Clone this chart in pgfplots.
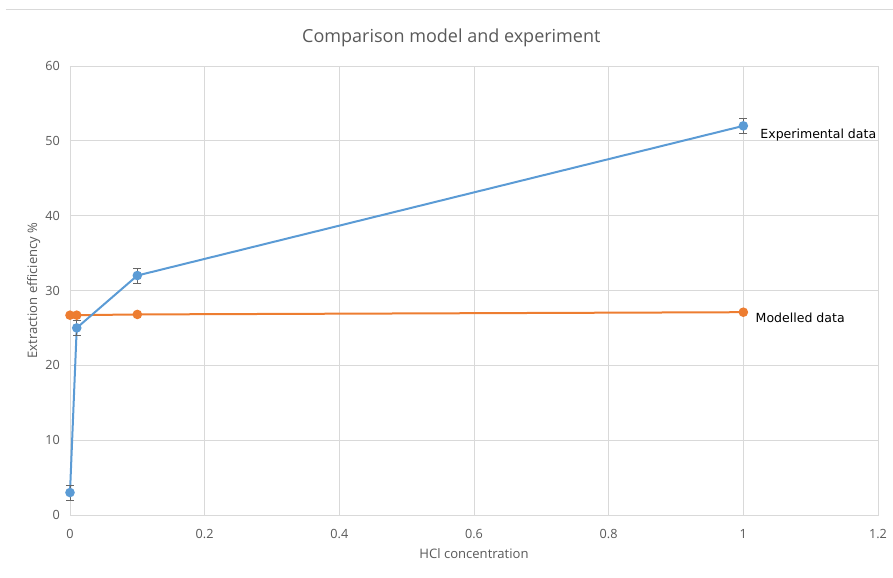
\documentclass[border=0pt]{standalone}
\usepackage{pgfplots}
\pgfplotsset{compat=1.18}
\usepackage{fontspec}
\setmainfont{Open Sans}
\newfontfamily\dejavu{DejaVu Sans}
\definecolor{blueS}{RGB}{91,155,213}
\definecolor{orangeS}{RGB}{237,125,49}
\definecolor{gridc}{RGB}{217,217,217}
\definecolor{txt}{RGB}{89,89,89}
\begin{document}
\begin{tikzpicture}
\path[use as bounding box] (-52.5pt,-47.25pt) rectangle (617.25pt,386.25pt);
\draw[gridc, line width=0.75pt] (-48pt,378.75pt) -- (617.25pt,378.75pt);
\begin{axis}[
  at={(0,0)}, anchor=south west,
  scale only axis, width=606pt, height=336.75pt,
  xmin=0, xmax=1.2, ymin=0, ymax=60,
  xtick={0,0.2,...,1.2}, ytick={0,10,...,60},
  grid=major, grid style={gridc, line width=0.6pt},
  axis line style={gridc, line width=0.6pt},
  tick style={draw=none},
  ticklabel style={font=\fontsize{9.5}{11}\selectfont, text=txt},
  /pgf/number format/assume math mode=true,
  xticklabel style={/pgf/number format/fixed, yshift=-7pt},
  yticklabel style={xshift=-4pt},
  xlabel={HCl concentration},
  ylabel={Extraction efficiency \%},
  label style={font=\fontsize{9.8}{11}\selectfont, text=txt},
  xlabel style={yshift=-1pt},
  ylabel style={yshift=-3pt},
  title={Comparison model and experiment},
  title style={font=\fontsize{13.5}{15}\selectfont, text=txt, yshift=5pt, xshift=-17pt},
  clip=false,
]
\addplot[orangeS, line width=1.5pt, mark=*, mark size=2.8pt, mark options={fill=orangeS, draw=orangeS}]
  coordinates {(0,26.7) (0.01,26.7) (0.1,26.8) (1,27.1)};
\addplot[blueS, line width=1.5pt, mark=*, mark size=2.8pt, mark options={fill=blueS, draw=blueS},
  error bars/.cd, y dir=both, y explicit,
  error bar style={black!60, line width=0.5pt},
  error mark options={rotate=90, mark size=3pt, black!60, line width=0.5pt}]
  coordinates {(0,3) +- (0,1) (0.01,25) +- (0,1) (0.1,32) +- (0,1) (1,52) +- (0,1)};
\node[anchor=west, inner sep=0pt, font=\dejavu\fontsize{9.4}{11}\selectfont] at (axis cs:1.025,50.8) {Experimental data};
\node[anchor=west, inner sep=0pt, font=\dejavu\fontsize{9.4}{11}\selectfont] at (axis cs:1.018,26.4) {Modelled data};
\end{axis}
\end{tikzpicture}
\end{document}
